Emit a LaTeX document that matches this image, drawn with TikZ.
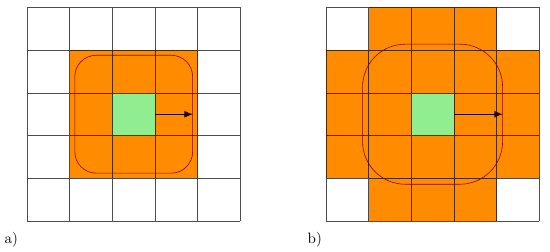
\documentclass[tikz,border=0pt]{standalone}
\usetikzlibrary{arrows.meta,positioning}
\definecolor{cellorange}{RGB}{255,140,0}
\definecolor{cellgreen}{RGB}{144,238,144}

\begin{document}
\begin{tikzpicture}[
    hot/.style={fill=cellorange},
    origin/.style={fill=cellgreen, minimum size=1cm, inner sep=0pt},
    reach/.style={draw=red!55!black, minimum size=#1, inner sep=0pt},
    board/.style={black, opacity=0.7, step=1cm},
    move/.style={-{Latex[length=2mm, width=1.6mm]}, black!85!red, semithick},
    tag/.style={font=\normalsize}
]
\useasboundingbox (-0.632,-0.726) rectangle (12.25,5.175);
\fill[hot] (1,1) rectangle (4,4);
\node[origin] (ca) at (2.5,2.5) {};
\draw[board] (0,0) grid (5,5);
\node[reach=2.76cm, rounded corners=0.5cm] (ra) at (2.5,2.5) {};
\coordinate (ta) at (ra.east |- ca.center);
\draw[move] (ca.east) -- (ta);
\node[tag] (la) at (-0.37,-0.44) {a)};

\fill[hot] (8,0) rectangle (11,5);
\fill[hot] (7,1) rectangle (12,4);
\node[origin] (cb) at (9.5,2.5) {};
\draw[board] (7,0) grid (12,5);
\node[reach=3.28cm, rounded corners=1cm] (rb) at (9.5,2.5) {};
\coordinate (tb) at (rb.east |- cb.center);
\draw[move] (cb.east) -- (tb);
\node[tag] (lb) at (6.74,-0.44) {b)};
\end{tikzpicture}
\end{document}
